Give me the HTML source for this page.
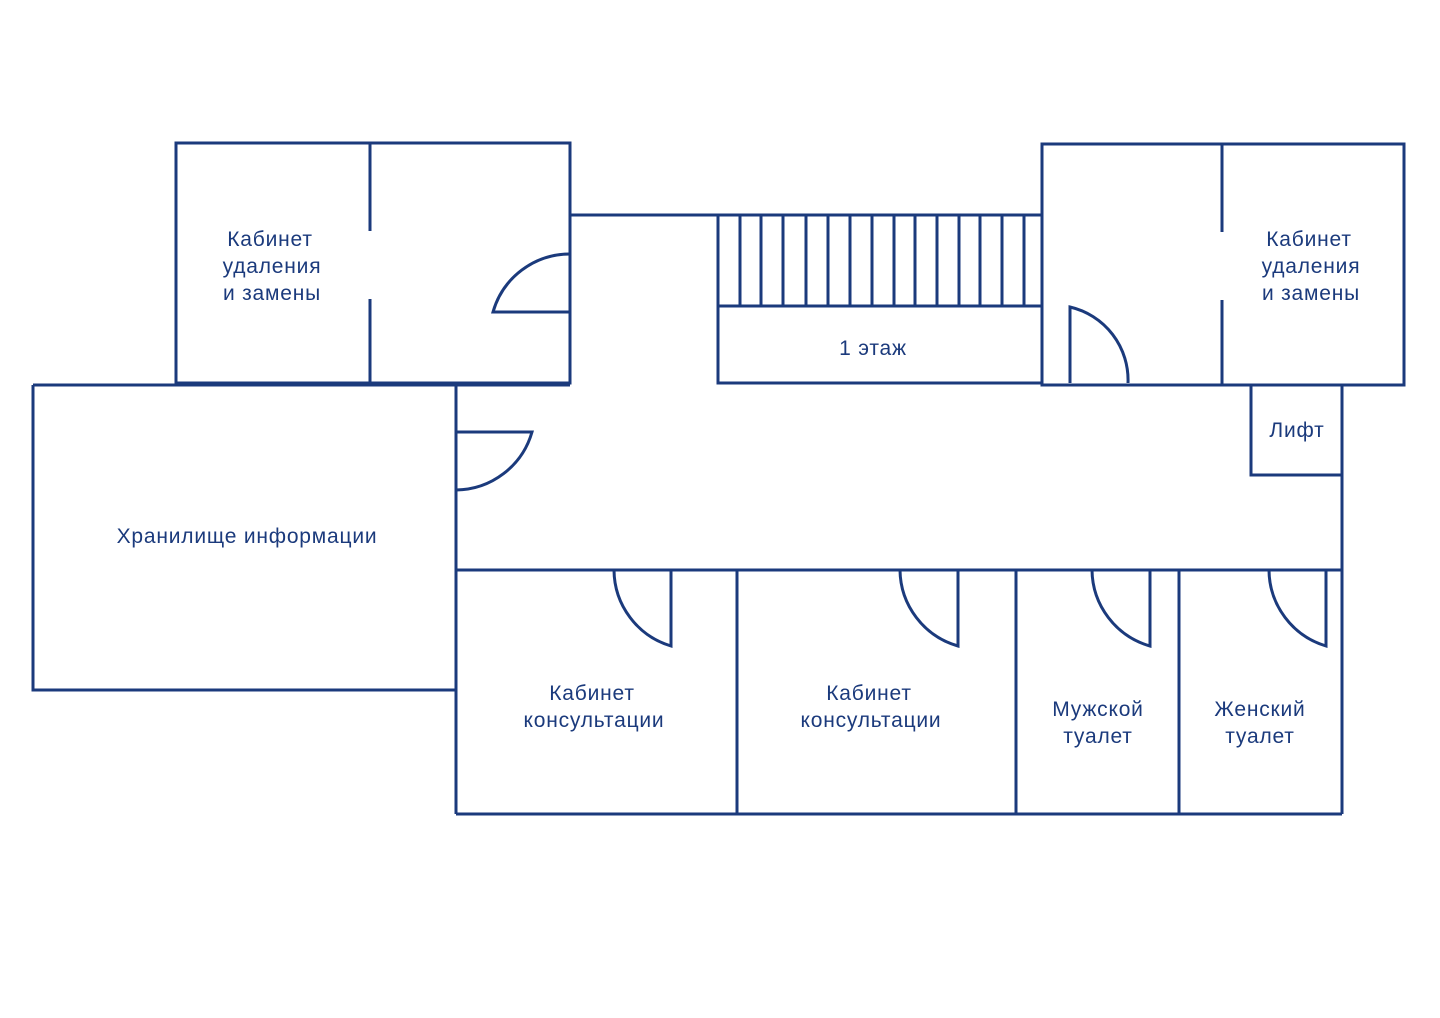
<!DOCTYPE html>
<html><head><meta charset="utf-8"><style>
html,body{margin:0;padding:0;background:#fff;}
svg{display:block}
text{font-family:"Liberation Sans",sans-serif;font-size:21px;letter-spacing:0.8px;fill:#1b3a7c;text-anchor:middle}
</style></head><body>
<svg width="1440" height="1018" viewBox="0 0 1440 1018">
<g fill="none" stroke="#1b3a7c" stroke-width="3">
<path d="M176,143H570V383H176Z"/>
<path d="M370,143V231M370,299V383"/>
<path d="M570,254A80,80 0 0 0 493,312H570"/>
<path d="M570,215H1041"/>
<path d="M718,215V383H1041M718,306H1041"/>
<path d="M740,215V306M761,215V306M783,215V306M806,215V306M828,215V306M850,215V306M872,215V306M894,215V306M915,215V306M937,215V306M959,215V306M980,215V306M1002,215V306M1024,215V306"/>
<path d="M1042,144H1404V385H1042Z"/>
<path d="M1222,144V232M1222,300V385"/>
<path d="M1070,383V307A75,75 0 0 1 1128,383"/>
<path d="M33,385H570M33,385V690H456M456,384V814"/>
<path d="M456,432H532A80,80 0 0 1 456,490"/>
<path d="M1342,385V814M1251,385V475H1342"/>
<path d="M456,570H1342M456,814H1342M737,570V814M1016,570V814M1179,570V814"/>
<path d="M671,570V646A80,80 0 0 1 614,570"/>
<path d="M958,570V646A80,80 0 0 1 900,570"/>
<path d="M1150,570V646A80,80 0 0 1 1092,570"/>
<path d="M1326,570V646A80,80 0 0 1 1269,570"/>
</g>
<text x="270" y="246">Кабинет</text>
<text x="272" y="273">удаления</text>
<text x="272" y="300">и замены</text>
<text x="1309" y="246">Кабинет</text>
<text x="1311" y="273">удаления</text>
<text x="1311" y="300">и замены</text>
<text x="873" y="355">1 этаж</text>
<text x="1297" y="437">Лифт</text>
<text x="247" y="543">Хранилище информации</text>
<text x="592" y="700">Кабинет</text>
<text x="594" y="727">консультации</text>
<text x="869" y="700">Кабинет</text>
<text x="871" y="727">консультации</text>
<text x="1098" y="716">Мужской</text>
<text x="1098" y="743">туалет</text>
<text x="1260" y="716">Женский</text>
<text x="1260" y="743">туалет</text>
</svg>
</body></html>
